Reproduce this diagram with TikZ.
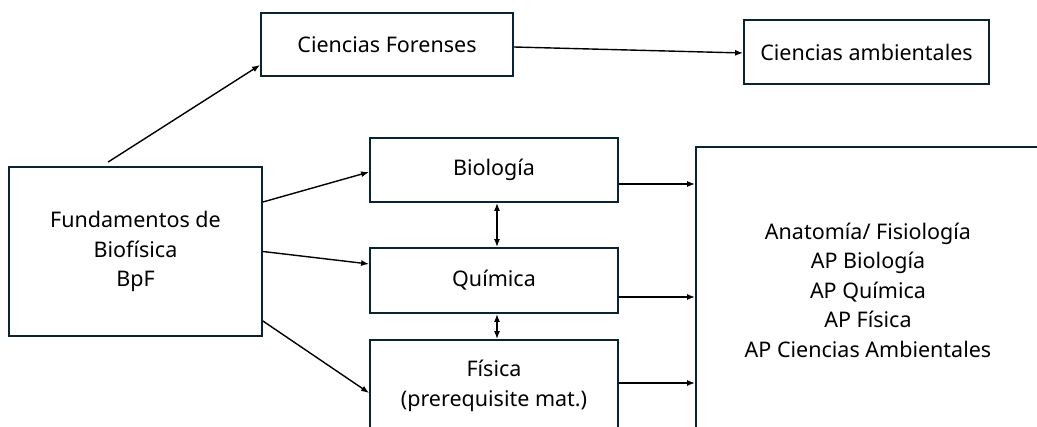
\documentclass[tikz,border=0pt]{standalone}
\usepackage{fontspec}
\setmainfont{Noto Sans}
\usetikzlibrary{arrows.meta}
\definecolor{boxline}{RGB}{10,35,50}

\begin{document}
\begin{tikzpicture}[x=1pt,y=-1pt,
	font=\fontsize{21.5}{29.5}\selectfont,
	box/.style={draw=boxline,line width=1.8pt,align=center,inner sep=0pt},
	link/.style={-{Latex[length=8pt,width=6pt]},line width=1.4pt},
	both/.style={{Latex[length=8pt,width=6pt]}-{Latex[length=8pt,width=6pt]},line width=1.4pt}]
\useasboundingbox (0,0) rectangle (1037,427);
\clip (0,0) rectangle (1037,427);

%----------------------------
% Top row
%----------------------------
\node[box,minimum width=252pt,minimum height=63pt] (forenses) at (387,44.5) {Ciencias Forenses};
\node[box,minimum width=245pt,minimum height=64pt] (ambientales) at (866.5,52) {Ciencias ambientales};

%----------------------------
% Left: starting course
%----------------------------
\node[box,minimum width=253pt,minimum height=169pt] (fund) at (135.5,251.5)
	{Fundamentos de\\Biofísica\\BpF};

%----------------------------
% Middle: core sciences
%----------------------------
\node[box,minimum width=248pt,minimum height=64pt] (bio) at (494,170) {Biología};
\node[box,minimum width=248pt,minimum height=65pt] (quim) at (494,280.5) {Química};
\node[box,minimum width=248pt,minimum height=92pt] (fis) at (494,386)
	{Física\\(prerequisite mat.)};

%----------------------------
% Right: advanced courses (runs off the page)
%----------------------------
\node[box,minimum width=344pt,minimum height=286pt] (ap) at (868,290)
	{Anatomía/ Fisiología\\AP Biología\\AP Química\\AP Física\\AP Ciencias Ambientales};

%----------------------------
% Arrows
%----------------------------
\draw[link] ([xshift=-27.5pt,yshift=4pt]fund.north) -- ([yshift=-20.5pt]forenses.west);
\draw[link] ([yshift=-2.5pt]forenses.east) -- ([yshift=-1pt]ambientales.west);

\draw[link] ([yshift=49.5pt]fund.east) -- ([yshift=-2pt]bio.west);
\draw[link] (fund.east) -- ([yshift=16.5pt]quim.west);
\draw[link] ([yshift=-69.5pt]fund.east) -- ([yshift=-7pt]fis.west);

\draw[both] ([xshift=3pt]bio.south) -- ([xshift=3pt]quim.north);
\draw[both] ([xshift=3pt]quim.south) -- ([xshift=3pt]fis.north);

% into the AP box
\coordinate (b1) at ([yshift=-14pt]bio.east);
\coordinate (q1) at ([yshift=-16.5pt]quim.east);
\coordinate (f1) at ([yshift=3pt]fis.east);
\draw[link] (b1) -- (b1 -| ap.west);
\draw[link] (q1) -- (q1 -| ap.west);
\draw[link] (f1) -- (f1 -| ap.west);

\end{tikzpicture}
\end{document}
